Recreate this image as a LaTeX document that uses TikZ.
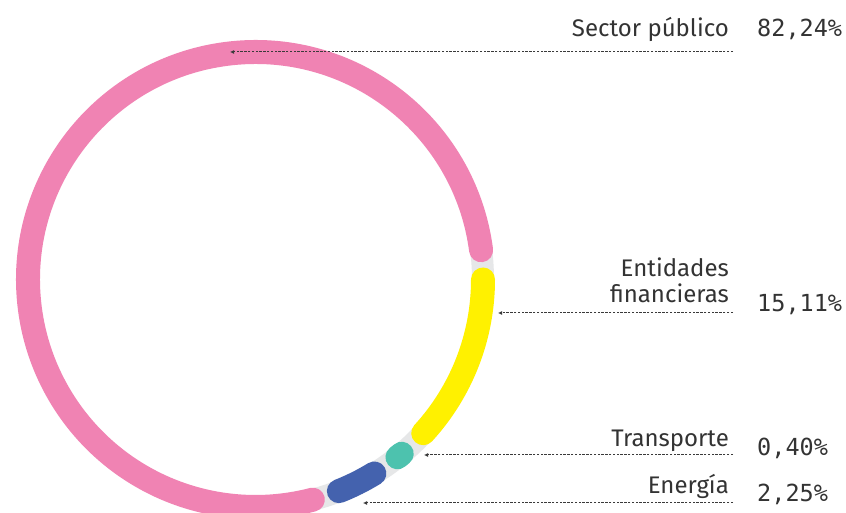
\documentclass[tikz,border=0pt]{standalone}
\usepackage{fontspec}
\setsansfont{Fira Sans}
\newfontfamily\valuefont{DejaVu Sans Mono}
\usetikzlibrary{calc}
\usetikzlibrary{arrows.meta}

\definecolor{sectorpink}{HTML}{F083B3}
\definecolor{finyellow}{HTML}{FFF100}
\definecolor{transteal}{HTML}{4DC2AE}
\definecolor{energyblue}{HTML}{4462AE}
\definecolor{trackgray}{HTML}{E6E7E8}
\definecolor{textgray}{HTML}{333333}
\definecolor{linegray}{HTML}{3A3A3A}

\begin{document}
\begin{tikzpicture}[x=1pt,y=1pt,
    catlabel/.style={anchor=base east,inner sep=0pt,text=textgray,font=\sffamily\fontsize{24}{26}\selectfont},
    catvalue/.style={anchor=base west,inner sep=0pt,text=textgray,font=\valuefont\fontsize{23.5}{26}\selectfont},
    leader/.style={draw=linegray,line width=1pt,dash pattern=on 2.4pt off 1.4pt,-{Latex[length=4pt,width=4pt]}},
    track/.style={draw=trackgray,line width=22pt},
    segment/.style={line width=24pt,line cap=round}]

            % Define the centre and radius of the ring
            \def\cx{255.5}  % centre x
            \def\cy{233.5}  % centre y
            \def\r{227.5}   % radius of the ring
            \def\xl{729}    % right edge of labels
            \def\xv{757}    % left edge of values
            \def\xs{733}    % start of leader lines

            \useasboundingbox (0,0) rectangle (846,513);
            \fill[white] (0,0) rectangle (846,513);
            \clip (0,0) rectangle (846,513);

            \coordinate (O) at (\cx,\cy);

            % Draw the grey track
            \draw[track] (O) circle[radius=\r];

            % Draw the segments
            \draw[segment,sectorpink] ($(O)+(7.4:\r)$) arc[start angle=7.4, end angle=284.6, radius=\r];
            \draw[segment,finyellow] ($(O)+(0:\r)$) arc[start angle=0, end angle=-42.5, radius=\r];
            \draw[segment,transteal] ($(O)+(-50:\r)$) arc[start angle=-50, end angle=-51.4, radius=\r];
            \draw[segment,energyblue] ($(O)+(-58.5:\r)$) arc[start angle=-58.5, end angle=-68.5, radius=\r];

            % Labels and values
            \node[catlabel] (lSector) at (\xl,476) {Sector público};
            \node[catvalue] (vSector) at (\xv,476) {82,24\%};
            \node[catlabel,anchor=south east,align=right] (lFin) at (\xl,210) {Entidades\\financieras};
            \node[catvalue] (vFin) at (\xv,201) {15,11\%};
            \node[catlabel] (lTrans) at (\xl,66) {Transporte};
            \node[catvalue] (vTrans) at (\xv,57) {0,40\%};
            \node[catlabel] (lEnergy) at (\xl,19) {Energía};
            \node[catvalue] (vEnergy) at (\xv,11) {2,25\%};

            % Leader line ends
            \coordinate (sSector) at (\xs,461);
            \coordinate (tSector) at (230,461);
            \coordinate (sFin) at (\xs,200);
            \coordinate (tFin) at (498,200);
            \coordinate (sTrans) at (\xs,58);
            \coordinate (tTrans) at (424,58);
            \coordinate (sEnergy) at (\xs,10);
            \coordinate (tEnergy) at (363,10);

            % Draw leader lines
            \draw[leader] (sSector) -- (tSector);
            \draw[leader] (sFin) -- (tFin);
            \draw[leader] (sTrans) -- (tTrans);
            \draw[leader] (sEnergy) -- (tEnergy);
        \end{tikzpicture}
\end{document}
